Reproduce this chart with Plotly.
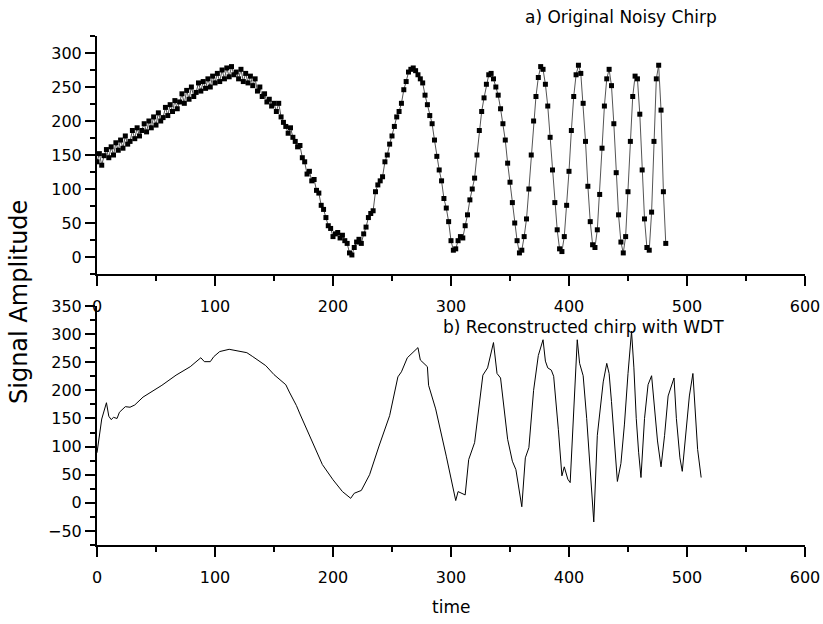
import plotly.graph_objects as go

# ---------------- data ----------------
# a) original noisy chirp, sampled every 2 time units (values read from the picture)
noisy_time = list(range(0, 484, 2))
noisy_amp = [
    140, 152, 135, 149, 158, 146, 162, 150, 168, 157,
    172, 160, 178, 166, 170, 186, 174, 190, 178, 186,
    196, 184, 200, 190, 206, 194, 212, 200, 205, 220,
    208, 224, 214, 230, 218, 228, 240, 226, 245, 232,
    250, 236, 242, 256, 244, 258, 248, 262, 250, 266,
    256, 270, 258, 275, 262, 278, 265, 280, 268, 272,
    262, 276, 258, 270, 256, 266,
    252, 262, 244, 250, 236, 240, 228, 232, 222, 226,
    214, 226, 206, 198, 192, 182, 190, 176, 170, 162,
    164, 146, 140, 122, 126, 112, 114, 98, 94, 76,
    70, 58, 46, 42, 30, 34, 36, 28, 32, 24,
    20, 6, 3, 14, 22, 26, 20, 34, 44, 58,
    64, 68, 96, 106, 112, 118, 140, 150, 166, 178,
    192, 206, 214, 226, 246, 258, 272, 276, 278, 274,
    268, 262, 256, 238, 224, 208, 196, 172, 148, 128,
    112, 86, 72, 52, 24, 10, 12, 24, 30, 28,
    46, 62, 84, 100, 116, 150, 186, 214, 234, 254,
    268, 270, 262, 250, 238, 218, 196, 172, 138, 110,
    80, 50, 24, 6, 10, 30, 56, 100, 150, 200,
    236, 264, 280, 276, 254, 222, 176, 128, 80, 40,
    12, 8, 30, 76, 126, 186, 236, 268, 282, 270,
    226, 170, 104, 52, 18, 14, 40, 92, 160, 222,
    262, 276, 252, 196, 124, 62, 22, 6, 30, 96,
    170, 236, 266, 262, 210, 128, 56, 14, 10, 66,
    170, 262, 282, 216, 96, 20,
]

# b) chirp reconstructed with WDT (vertices read from the picture)
recon_time = [
    0, 4, 8, 10, 12, 14, 17, 19, 24, 28, 32, 39, 55, 67, 79, 87, 88, 91, 96, 99,
    104, 112, 118, 127, 132, 143, 150, 160, 163, 169, 172, 180, 191, 200, 208, 215,
    218, 224, 231, 239, 248, 255, 258, 263, 267, 272, 274, 280, 281, 287, 296, 304,
    306, 309, 312, 315, 320, 327, 331, 336, 339, 342, 348, 352, 355, 360, 363, 366,
    370, 374, 378, 380, 382, 385, 387, 391, 394, 396, 399, 401, 403, 405, 407, 409,
    412, 415, 418, 421, 424, 427, 429, 432, 434, 436, 439, 441, 444, 447, 450, 453,
    455, 457, 459, 461, 464, 467, 470, 472, 475, 478, 481, 484, 487, 489, 491, 494,
    496, 499, 502, 505, 507, 509, 512,
]
recon_amp = [
    89, 149, 178, 154, 148, 152, 150, 161, 171, 170, 174, 188, 209, 227, 242, 257, 258, 251, 251, 260,
    269, 273, 271, 267, 260, 244, 228, 210, 197, 173, 158, 120, 68, 41, 20, 8,
    17, 22, 50, 101, 155, 224, 233, 258, 266, 276, 254, 242, 209, 167, 83, 4,
    20, 17, 14, 77, 107, 227, 240, 285, 230, 222, 113, 74, 59, -7, 80, 98,
    200, 262, 290, 252, 240, 236, 225, 130, 48, 64, 42, 36, 130, 220, 290, 248,
    226, 150, 60, -34, 120, 175, 215, 248, 230, 180, 90, 38, 70, 140, 230, 305,
    240, 150, 90, 45, 150, 210, 226, 180, 110, 64, 120, 190, 210, 222, 150, 80,
    56, 120, 190, 230, 160, 95, 45,
]

x_ticks = [0, 100, 200, 300, 400, 500, 600]
top_y_ticks = [0, 50, 100, 150, 200, 250, 300]
bottom_y_ticks = [-50, 0, 50, 100, 150, 200, 250, 300, 350]

# ---------------- figure ----------------
FONT = "DejaVu Sans"
W, H = 823, 624
L, R, T, B = 97, 18, 36, 79
PW, PH = W - L - R, H - T - B


def py(pix):
    """pixel row -> paper y"""
    return (H - B - pix) / PH


def px(pix):
    return (pix - L) / PW


fig = go.Figure()
fig.add_trace(go.Scatter(
    x=noisy_time, y=noisy_amp, mode="lines+markers",
    line=dict(color="#555555", width=1),
    marker=dict(symbol="square", size=5, color="black"),
    xaxis="x", yaxis="y", showlegend=False,
))
fig.add_trace(go.Scatter(
    x=recon_time, y=recon_amp, mode="lines",
    line=dict(color="black", width=1),
    xaxis="x2", yaxis="y2", showlegend=False,
))

axis_common = dict(
    showline=True, linecolor="black", linewidth=2,
    ticks="outside", ticklen=10, tickwidth=2, tickcolor="black",
    showgrid=False, zeroline=False, automargin=False,
    tickfont=dict(family=FONT, size=16, color="black"),
)
minor_x = dict(ticks="outside", ticklen=5, tickwidth=2, tickcolor="black",
               dtick=50, tick0=0, showgrid=False)
minor_y = dict(ticks="outside", ticklen=5, tickwidth=2, tickcolor="black",
               dtick=25, tick0=0, showgrid=False)

fig.update_layout(
    width=W, height=H, autosize=False,
    margin=dict(l=L, r=R, t=T, b=B),
    paper_bgcolor="white", plot_bgcolor="white",
    font=dict(family=FONT, color="black"),
    xaxis=dict(domain=[0, 1], anchor="y", range=[0, 600], tickvals=x_ticks,
               ticklabelstandoff=7, minor=minor_x, **axis_common),
    yaxis=dict(domain=[py(274), 1], anchor="x", range=[-25, 325], tickvals=top_y_ticks,
               minor=minor_y, **axis_common),
    xaxis2=dict(domain=[0, 1], anchor="y2", range=[0, 600], tickvals=x_ticks,
                ticklabelstandoff=7, minor=minor_x, **axis_common),
    yaxis2=dict(domain=[0, py(306)], anchor="x2", range=[-75, 350], tickvals=bottom_y_ticks,
                minor=minor_y, **axis_common),
    annotations=[
        dict(text="a) Original Noisy Chirp", xref="paper", yref="paper",
             x=px(523), y=py(17), xanchor="left", yanchor="middle", showarrow=False,
             font=dict(family=FONT, size=17, color="black")),
        dict(text="b) Reconstructed chirp with WDT", xref="paper", yref="paper",
             x=px(441), y=py(327), xanchor="left", yanchor="middle", showarrow=False,
             font=dict(family=FONT, size=17, color="black")),
        dict(text="Signal Amplitude", xref="paper", yref="paper",
             x=px(19), y=py(302), xanchor="center", yanchor="middle", textangle=-90,
             showarrow=False, font=dict(family=FONT, size=24, color="black")),
        dict(text="time", xref="paper", yref="paper",
             x=0.5, y=py(607), xanchor="center", yanchor="middle", showarrow=False,
             font=dict(family=FONT, size=17, color="black")),
    ],
)

# remove the browser's default 8px page margin so the figure fills the window exactly
fig.write_html("out.html",
               config={"displayModeBar": False, "staticPlot": True},
               post_script="document.body.style.margin='0';document.body.style.overflow='hidden';")
